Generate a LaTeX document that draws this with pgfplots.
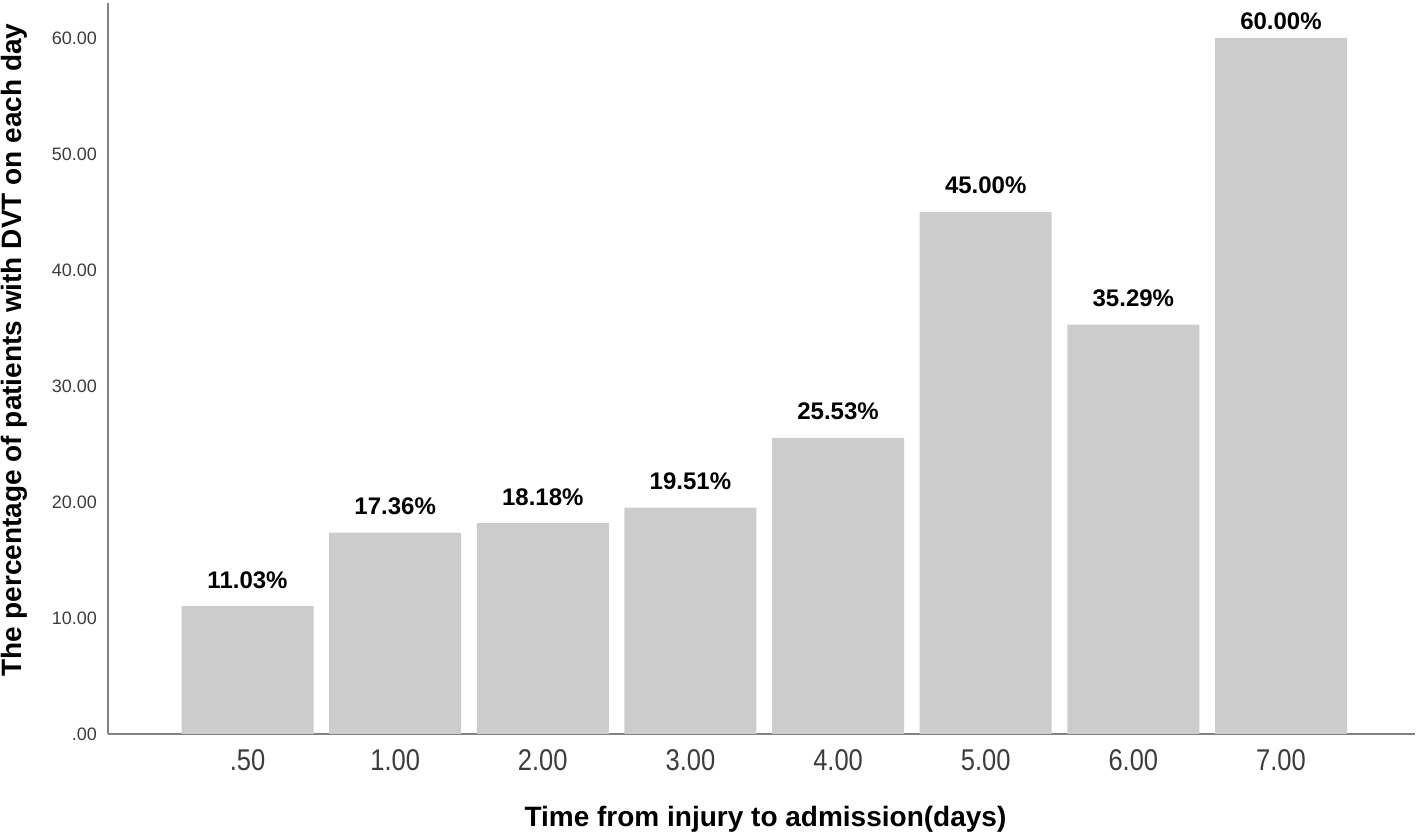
\documentclass[border=0pt]{standalone}
\usepackage{pgfplots}
\pgfplotsset{compat=1.18}
\usepackage{fontspec}
\setmainfont{Liberation Sans}
\definecolor{barg}{RGB}{204,204,204}
\definecolor{axg}{RGB}{130,130,130}
\definecolor{tickg}{RGB}{60,60,60}
\newcommand\xs[1]{\scalebox{0.85}[1]{#1}}
\begin{document}
\begin{tikzpicture}
\useasboundingbox (0,0) rectangle (709pt,420pt);
\begin{axis}[
  at={(54pt,53pt)}, anchor=south west,
  scale only axis, width=653.5pt, height=365.5pt,
  ybar, bar width=66pt, bar shift=0pt,
  xmin=-0.945, xmax=7.908, ymin=0, ymax=63,
  axis lines*=left,
  axis line style={axg, line width=1pt, -},
  major tick length=0pt,
  /pgf/number format/assume math mode=true,
  xtick={0,1,2,3,4,5,6,7},
  xticklabels={\xs{.50},\xs{1.00},\xs{2.00},\xs{3.00},\xs{4.00},\xs{5.00},\xs{6.00},\xs{7.00}},
  ytick={0,10,20,30,40,50,60},
  yticklabels={.00,10.00,20.00,30.00,40.00,50.00,60.00},
  tick label style={font=\fontsize{9}{10}\selectfont, text=tickg},
  x tick label style={font=\fontsize{15}{16}\selectfont, yshift=-4pt},
  y tick label style={xshift=-2pt},
  xlabel={Time from injury to admission(days)},
  xlabel style={font=\bfseries\fontsize{14}{16}\selectfont, at={(axis description cs:0.503,-0.127)}, anchor=base},
  ylabel={The percentage of patients with DVT on each day},
  ylabel style={font=\bfseries\fontsize{14}{16}\selectfont, at={(axis description cs:-0.066,0.525)}, anchor=base, rotate=0},
  nodes near coords={\pgfmathprintnumber[fixed,fixed zerofill,precision=2,assume math mode=true]{\pgfplotspointmeta}\%},
  nodes near coords style={font=\bfseries\fontsize{12}{14}\selectfont, text=black, anchor=base, yshift=9pt},
  clip=false,
]
\addplot[fill=barg, draw=none] coordinates {(0,11.03) (1,17.36) (2,18.18) (3,19.51) (4,25.53) (5,45.00) (6,35.29)};
\addplot[fill=barg, draw=none, nodes near coords style={yshift=-5pt}] coordinates {(7,60.00)};
\end{axis}
\end{tikzpicture}
\end{document}
